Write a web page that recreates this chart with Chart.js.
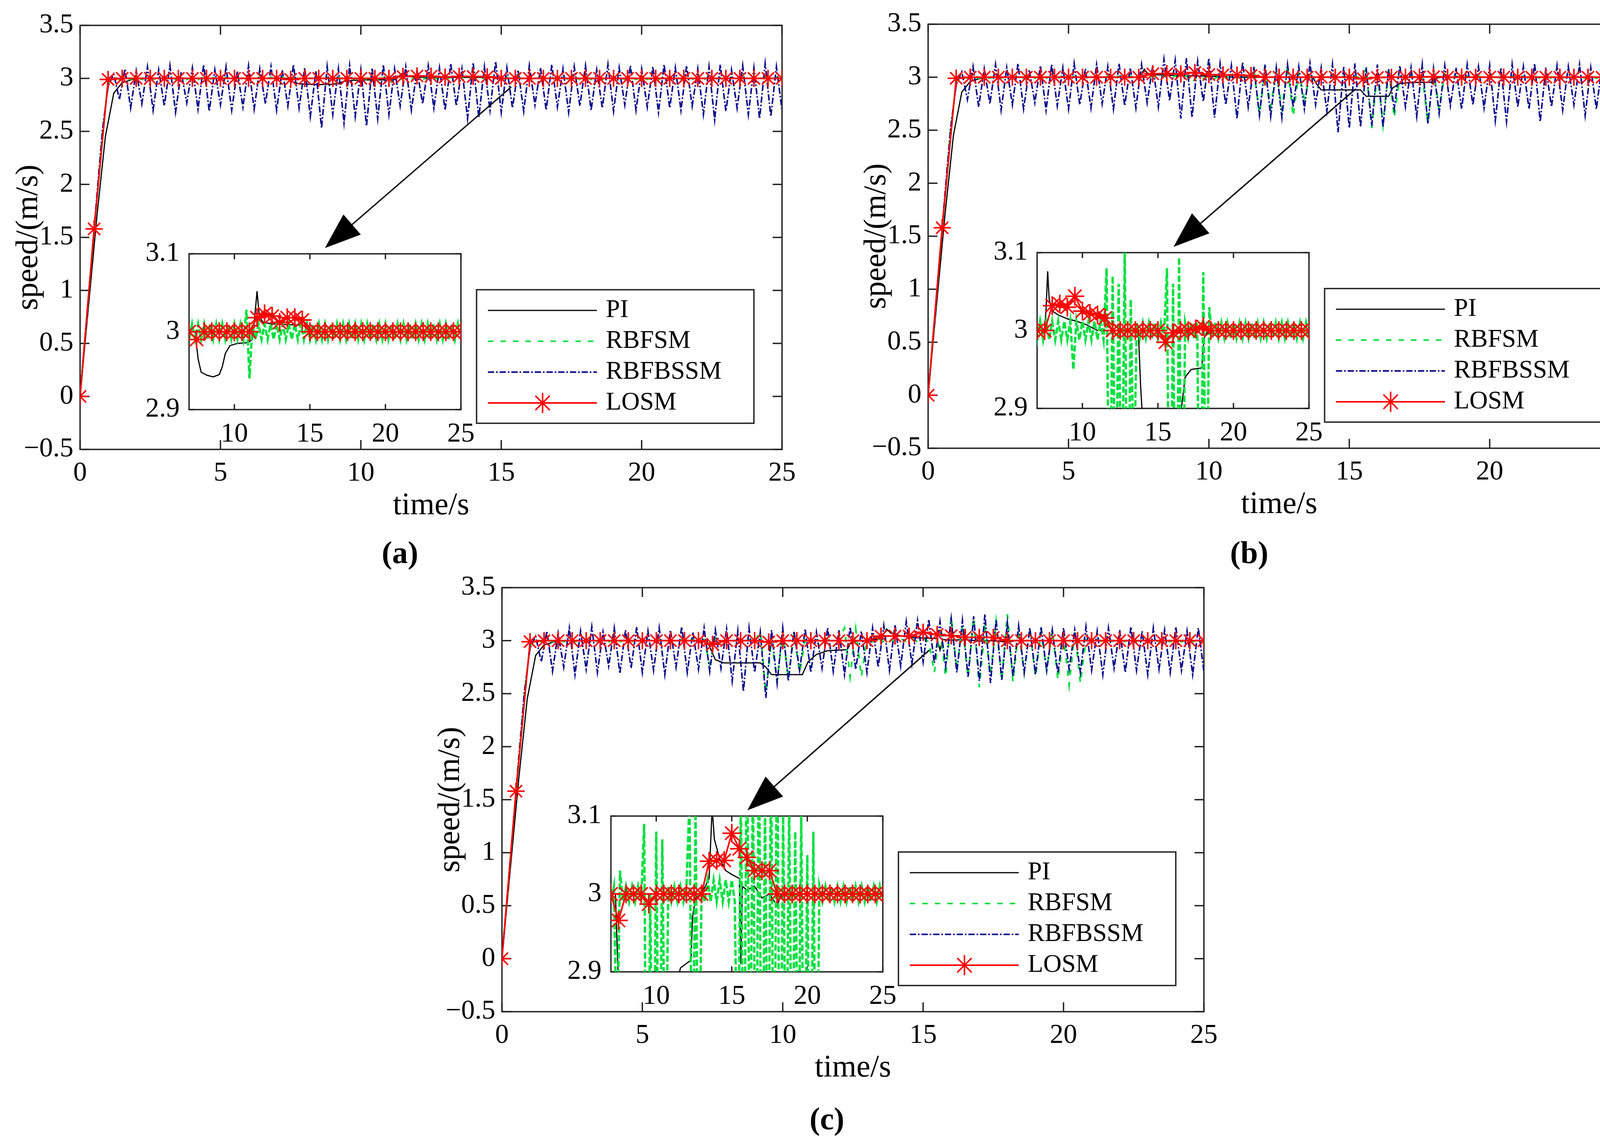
<!DOCTYPE html>
<html>
<head>
<meta charset="utf-8">
<script src="https://cdn.jsdelivr.net/npm/chart.js@4.4.1/dist/chart.umd.min.js"></script>
<style>
  body { margin: 0; width: 4227px; height: 2935px; background: #fff; position: relative; overflow: hidden; }
  canvas { position: absolute; }
  .tag { position: absolute; font: bold 80px "Liberation Serif", serif; line-height: 1; transform: translate(-50%, -50%); color: #000; }
</style>
</head>
<body>
<div class="tag" style="left:1024px;top:1415px">(a)</div>
<div class="tag" style="left:3198px;top:1415px">(b)</div>
<div class="tag" style="left:2117px;top:2865px">(c)</div>
<script>
// sampling of the simulation traces
const sampleStep = 0.2;   // RBFSM / RBFBSSM samples, seconds
const markerStep = 0.5;   // LOSM samples, seconds

const seriesNames = ['PI', 'RBFSM', 'RBFBSSM', 'LOSM'];
const xTicksMain = [0, 5, 10, 15, 20, 25];
const yTicksMain = [-0.5, 0, 0.5, 1, 1.5, 2, 2.5, 3, 3.5];
const xTicksInset = [10, 15, 20, 25];
const yTicksInset = [2.9, 3, 3.1];

// ---------- (a) ----------
const piTimeA = [0, 0.3, 0.6, 0.9, 1.2, 1.5, 2.0, 7.4, 7.6, 7.8, 8.2, 8.6, 9.0, 9.2, 9.4, 9.7, 10.2, 10.9,
  11.2, 11.4, 11.5, 11.65, 11.9, 12.5, 14.8, 15.2, 25];
const piSpeedA = [0, 0.85, 1.7, 2.45, 2.86, 2.96, 3.0, 3.0, 2.965, 2.948, 2.944, 2.942, 2.945, 2.955, 2.972, 2.982, 2.985, 2.986,
  2.99, 3.03, 3.052, 3.02, 3.012, 3.01, 3.008, 3.0, 3.0];
const rbfsmA = [
  0, 0.62, 1.25, 1.88, 2.5, 2.95, 3.01, 2.99, 3.01, 2.99,
  3.01, 2.99, 3.01, 2.99, 3.01, 2.99, 3.01, 2.99, 3.01, 2.99,
  3.01, 2.99, 3.01, 2.99, 3.01, 2.99, 3.01, 2.99, 3.01, 2.99,
  3.01, 2.99, 3.01, 2.99, 3.01, 2.99, 3.01, 2.99, 3.01, 2.99,
  3.01, 2.99, 3.01, 2.99, 3.01, 2.99, 3.01, 2.99, 3.01, 2.99,
  3.01, 2.99, 3.01, 2.99, 3.028, 2.94, 3.01, 2.99, 3.01, 2.99,
  3.01, 2.99, 3.01, 2.99, 3.01, 2.99, 3.01, 2.99, 3.01, 2.99,
  3.01, 2.99, 3.01, 2.99, 3.01, 2.99, 3.01, 2.99, 3.01, 2.99,
  3.01, 2.99, 3.01, 2.99, 3.01, 2.99, 3.01, 2.99, 3.01, 2.99,
  3.01, 2.99, 3.01, 2.99, 3.01, 2.99, 3.01, 2.99, 3.01, 2.99,
  3.01, 2.99, 3.01, 2.99, 3.01, 2.99, 3.01, 2.99, 3.01, 2.99,
  3.01, 2.99, 3.01, 2.99, 3.01, 2.99, 3.01, 2.99, 3.01, 2.99,
  3.01, 2.99, 3.01, 2.99, 3.01, 2.99];
const rbfbssmA = [
  0, 0.63, 1.26, 1.9, 2.52, 2.93,
  3.04, 2.80, 3.09, 2.72, 3.07, 2.76, 3.11, 2.70, 3.08, 2.74,
  3.12, 2.68, 3.06, 2.77, 3.10, 2.71, 3.13, 2.69, 3.08, 2.75,
  3.11, 2.70, 3.07, 2.73, 3.12, 2.71, 3.09, 2.76, 3.11, 2.70,
  3.08, 2.74, 3.13, 2.72, 3.10, 2.64, 3.07, 2.53, 3.11, 2.66,
  3.09, 2.58, 3.12, 2.64, 3.08, 2.55, 3.10, 2.62, 3.13, 2.66,
  3.09, 2.74, 3.11, 2.70, 3.08, 2.76, 3.12, 2.72, 3.10, 2.70,
  3.14, 2.74, 3.09, 2.62, 3.15, 2.63, 3.11, 2.70, 3.16, 2.68,
  3.10, 2.72, 3.08, 2.69, 3.12, 2.75, 3.10, 2.70, 3.13, 2.73,
  3.09, 2.68, 3.11, 2.74, 3.12, 2.70, 3.08, 2.72, 3.13, 2.69,
  3.10, 2.75, 3.12, 2.70, 3.09, 2.73, 3.11, 2.68, 3.13, 2.72,
  3.10, 2.70, 3.12, 2.74, 3.09, 2.66, 3.11, 2.61, 3.13, 2.69,
  3.08, 2.72, 3.12, 2.66, 3.10, 2.62, 3.14, 2.64, 3.11, 2.70];
const losmA = [
  0, 1.58, 2.99, 3, 3, 3, 3, 3, 3, 3,
  3, 3, 3, 3, 3, 2.99, 3, 3, 3, 3,
  3, 3, 3, 3.018, 3.023, 3.02, 3.012, 3.018, 3.018, 3.015,
  3, 3, 3, 3, 3, 3, 3, 3, 3, 3,
  3, 3, 3, 3, 3, 3, 3, 3, 3, 3,
  3];

// ---------- (b) ----------
const piTimeB = [0, 0.3, 0.6, 0.9, 1.2, 1.5, 2.0, 7.5, 7.6, 7.7, 7.8, 8.0, 8.4, 9.0, 9.6, 10.2, 11.0,
  13.7, 13.85, 14.0, 15.4, 15.6, 16.4, 16.55, 16.8, 17.2, 17.9, 18.05, 18.3, 25];
const piSpeedB = [0, 0.85, 1.7, 2.45, 2.86, 2.96, 3.0, 3.0, 3.03, 3.076, 3.04, 3.025, 3.02, 3.015, 3.012, 3.008, 3.0,
  3.0, 2.93, 2.88, 2.88, 2.82, 2.82, 2.9, 2.94, 2.95, 2.952, 2.99, 3.0, 3.0];
const rbfsmB = [
  0, 0.62, 1.25, 1.88, 2.5, 2.95, 3.01, 2.99, 3.01, 2.99,
  3.01, 2.99, 3.01, 2.99, 3.01, 2.99, 3.01, 2.99, 3.01, 2.99,
  3.01, 2.99, 3.01, 2.99, 3.01, 2.99, 3.01, 2.99, 3.01, 2.99,
  3.01, 2.99, 3.01, 2.99, 3.01, 2.988, 3.012, 2.988, 3.012, 2.988,
  3.012, 2.988, 3.012, 2.988, 3.012, 2.988, 3.012, 2.95, 3.012, 2.988,
  3.012, 2.988, 3.012, 2.988, 3.012, 2.988, 3.012, 2.988, 3.08, 2.65,
  3.07, 2.72, 3.06, 2.70, 3.11, 2.63, 3.04, 2.80, 3.01, 2.99,
  3.01, 2.99, 3.01, 2.99, 3.01, 2.99, 3.01, 2.99, 3.08, 2.52,
  3.06, 2.55, 3.094, 2.62, 3.01, 2.99, 3.01, 2.99, 3.01, 2.57,
  3.075, 2.70, 3.03, 2.99, 3.01, 2.99, 3.01, 2.99, 3.01, 2.99,
  3.01, 2.99, 3.01, 2.99, 3.01, 2.99, 3.01, 2.99, 3.01, 2.99,
  3.01, 2.99, 3.01, 2.99, 3.01, 2.99, 3.01, 2.99, 3.01, 2.99,
  3.01, 2.99, 3.01, 2.99, 3.01, 2.99];
const rbfbssmB = [
  0, 0.63, 1.26, 1.9, 2.52, 2.93,
  3.05, 2.79, 3.10, 2.72, 3.08, 2.75, 3.12, 2.69, 3.09, 2.74,
  3.13, 2.70, 3.07, 2.76, 3.11, 2.69, 3.12, 2.73, 3.09, 2.70,
  3.13, 2.74, 3.08, 2.71, 3.12, 2.75, 3.10, 2.70, 3.13, 2.73,
  3.09, 2.71, 3.12, 2.76, 3.11, 2.72, 3.17, 2.78, 3.16, 2.61,
  3.18, 2.62, 3.15, 2.77, 3.18, 2.62, 3.13, 2.74, 3.11, 2.61,
  3.14, 2.72, 3.10, 2.64, 3.12, 2.63, 3.09, 2.62, 3.12, 2.72,
  3.10, 2.70, 3.13, 2.74, 3.09, 2.68, 3.12, 2.48, 3.10, 2.52,
  3.13, 2.53, 3.09, 2.54, 3.12, 2.53, 3.08, 2.70, 3.11, 2.72,
  3.09, 2.63, 3.12, 2.56, 3.08, 2.66, 3.11, 2.73, 3.09, 2.70,
  3.12, 2.74, 3.10, 2.71, 3.11, 2.59, 3.09, 2.58, 3.12, 2.72,
  3.10, 2.70, 3.13, 2.58, 3.09, 2.72, 3.11, 2.69, 3.10, 2.74,
  3.12, 2.64, 3.09, 2.70, 3.11, 2.68, 3.13, 2.72, 3.10, 2.69];
const losmB = [
  0, 1.58, 2.99, 3, 3, 3, 3, 3, 3, 3,
  3, 3, 3, 3, 3, 3, 3.032, 3.034, 3.03, 3.044,
  3.025, 3.022, 3.02, 3.016, 3, 3, 3, 3, 3, 3,
  3, 2.985, 2.997, 3, 3, 3.002, 3.005, 3, 3, 3,
  3, 3, 3, 3, 3, 3, 3, 3, 3, 3,
  3];

// ---------- (c) ----------
const piTimeC = [0, 0.3, 0.6, 0.9, 1.2, 1.5, 2.0, 7.3, 7.6, 7.9, 9.2, 9.4, 9.6, 10.7, 10.9, 11.2, 11.6,
  12.3, 12.4, 12.6, 13.0, 13.5, 13.7, 13.85, 14.2, 14.6, 15.0,
  15.5, 15.6, 15.7, 16.0, 16.5, 17.0, 17.5, 18.0, 18.3, 25];
const piSpeedC = [0, 0.85, 1.7, 2.45, 2.86, 2.96, 3.0, 3.0, 2.82, 2.79, 2.79, 2.75, 2.68, 2.68, 2.80, 2.87, 2.905,
  2.915, 2.97, 2.995, 3.0, 3.02, 3.11, 3.07, 3.045, 3.03, 3.025,
  3.02, 2.91, 3.01, 3.005, 3.01, 2.995, 3.0, 2.985, 3.0, 3.0];
const rbfsmC = [
  0, 0.62, 1.25, 1.88, 2.5, 2.95, 3.01, 2.99, 3.01, 2.99,
  3.01, 2.99, 3.01, 2.99, 3.01, 2.99, 3.01, 2.99, 3.01, 2.99,
  3.01, 2.99, 3.01, 2.99, 3.01, 2.99, 3.01, 2.99, 3.01, 2.99,
  3.01, 2.99, 3.01, 2.99, 3.01, 2.99, 3.01, 2.78, 3.03, 2.99,
  3.01, 2.99, 3.01, 2.99, 3.01, 2.99, 3.09, 2.51, 3.0, 2.62,
  3.08, 2.64, 3.07, 2.70, 3.01, 2.99, 3.01, 2.99, 3.01, 2.99,
  3.01, 3.12, 2.66, 3.11, 2.66, 3.01, 2.99, 3.018, 2.99, 3.018,
  2.99, 3.018, 2.99, 3.018, 2.99, 3.018, 2.99, 2.70, 3.13, 2.66,
  3.23, 2.72, 3.15, 2.65, 3.22, 2.56, 3.12, 2.68, 3.18, 2.63,
  3.25, 2.61, 3.10, 2.70, 3.12, 2.66, 3.08, 2.72, 3.10, 2.63,
  3.05, 2.58, 3.08, 2.60, 3.01, 2.99, 3.01, 2.99, 3.01, 2.99,
  3.01, 2.99, 3.01, 2.99, 3.01, 2.99, 3.01, 2.99, 3.01, 2.99,
  3.01, 2.99, 3.01, 2.99, 3.01, 2.99];
const rbfbssmC = [
  0, 0.63, 1.26, 1.9, 2.52, 2.93,
  3.04, 2.80, 3.09, 2.71, 3.07, 2.75, 3.12, 2.68, 3.09, 2.73,
  3.13, 2.70, 3.08, 2.76, 3.12, 2.69, 3.10, 2.74, 3.13, 2.70,
  3.09, 2.72, 3.12, 2.68, 3.10, 2.75, 3.13, 2.70, 3.08, 2.73,
  3.12, 2.71, 3.10, 2.74, 3.11, 2.62, 3.09, 2.52, 3.12, 2.70,
  3.08, 2.46, 3.10, 2.60, 3.12, 2.62, 3.09, 2.72, 3.11, 2.70,
  3.08, 2.74, 3.12, 2.71, 3.10, 2.68, 3.13, 2.73, 3.09, 2.70,
  3.12, 2.75, 3.14, 2.72, 3.15, 2.76, 3.18, 2.78, 3.19, 2.80,
  3.20, 2.79, 3.18, 2.76, 3.21, 2.70, 3.19, 2.66, 3.23, 2.62,
  3.25, 2.60, 3.20, 2.63, 3.17, 2.66, 3.14, 2.70, 3.12, 2.68,
  3.13, 2.72, 3.10, 2.69, 3.12, 2.73, 3.10, 2.70, 3.13, 2.72,
  3.09, 2.68, 3.12, 2.74, 3.10, 2.70, 3.13, 2.72, 3.09, 2.68,
  3.12, 2.73, 3.10, 2.70, 3.13, 2.72, 3.09, 2.68, 3.12, 2.71];
const losmC = [
  0, 1.58, 2.99, 3, 3, 3, 3, 3, 3, 3,
  3, 3, 3, 3, 3, 2.966, 3, 3, 3, 2.987,
  3, 3, 3, 3, 3, 3, 3, 3.042, 3.043, 3.043,
  3.078, 3.058, 3.047, 3.03, 3.03, 3.03, 3, 3, 3, 3,
  3, 3, 3, 3, 3, 3, 3, 3, 3, 3,
  3];

// ---------- layout ----------
const MAIN_W = 1797, MAIN_H = 1086;
const INSET_DX = 279, INSET_DY = 569, INSET_W = 696, INSET_H = 415;
const LEG_DX = 1015, LEG_DY = 677, LEG_W = 710, LEG_H = 342;

const panels = [
  { left: 205, top: 65, pi: [piTimeA, piSpeedA], rbfsm: rbfsmA, rbfbssm: rbfbssmA, losm: losmA,
    arrow: [[15.36, 2.92], [8.72, 1.40]] },
  { left: 2376, top: 62, pi: [piTimeB, piSpeedB], rbfsm: rbfsmB, rbfbssm: rbfbssmB, losm: losmB,
    arrow: [[15.23, 2.89], [8.74, 1.40]] },
  { left: 1285, top: 1505, pi: [piTimeC, piSpeedC], rbfsm: rbfsmC, rbfbssm: rbfbssmC, losm: losmC,
    arrow: [[15.22, 2.91], [8.74, 1.40]] }
];

const RED = '#ff0000', GREEN = '#00e040', BLUE = '#0a0a8c', BLACK = '#000000', FRAME = '#222222';

Chart.defaults.font.family = '"Liberation Serif", "Times New Roman", serif';
Chart.defaults.color = '#000';

const onGrid = (vals, step) => vals.map((v, i) => ({ x: Math.round(i * step * 1000) / 1000, y: v }));
const paired = (ts, vs) => ts.map((t, i) => ({ x: t, y: vs[i] }));
const fmt = v => v < 0 ? '\u2212' + (-v) : String(v);

// box + inward ticks on all four sides, white plot background
const framePlugin = {
  id: 'frame',
  beforeDatasetsDraw(chart, args, o) {
    const { ctx, chartArea: a, scales: { x, y } } = chart;
    ctx.save();
    ctx.fillStyle = '#fff';
    ctx.fillRect(a.left, a.top, a.width, a.height);
    ctx.strokeStyle = FRAME;
    ctx.lineWidth = o.width;
    ctx.beginPath();
    x.ticks.forEach(t => {
      const px = x.getPixelForValue(t.value);
      ctx.moveTo(px, a.bottom); ctx.lineTo(px, a.bottom - o.tick);
      ctx.moveTo(px, a.top); ctx.lineTo(px, a.top + o.tick);
    });
    y.ticks.forEach(t => {
      const py = y.getPixelForValue(t.value);
      ctx.moveTo(a.left, py); ctx.lineTo(a.left + o.tick, py);
      ctx.moveTo(a.right, py); ctx.lineTo(a.right - o.tick, py);
    });
    ctx.stroke();
    ctx.strokeRect(a.left, a.top, a.width, a.height);
    ctx.restore();
  }
};

const legendPlugin = {
  id: 'boxLegend',
  afterDatasetsDraw(chart) {
    const { ctx, chartArea: a } = chart;
    const bx = a.left + LEG_DX, by = a.top + LEG_DY;
    ctx.save();
    ctx.fillStyle = '#fff';
    ctx.fillRect(bx, by, LEG_W, LEG_H);
    ctx.strokeStyle = FRAME;
    ctx.lineWidth = 3.5;
    ctx.strokeRect(bx, by, LEG_W, LEG_H);
    chart.data.datasets.forEach((ds, i) => {
      const ly = by + 53 + i * 79;
      ctx.strokeStyle = ds.borderColor;
      ctx.lineWidth = Math.min(ds.borderWidth, 4);
      ctx.setLineDash(ds.borderDash || []);
      ctx.beginPath();
      ctx.moveTo(bx + 29, ly); ctx.lineTo(bx + 308, ly);
      ctx.stroke();
      ctx.setLineDash([]);
      if (ds.pointStyle === 'star') {
        Chart.helpers.drawPoint(ctx, { pointStyle: 'star', radius: 26, borderWidth: 3.5, rotation: 0 }, bx + 169, ly);
      }
      ctx.fillStyle = '#000';
      ctx.font = '65px "Liberation Serif", serif';
      ctx.textBaseline = 'middle';
      ctx.fillText(ds.label, bx + 331, ly);
    });
    ctx.restore();
  }
};

const arrowPlugin = {
  id: 'zoomArrow',
  afterDatasetsDraw(chart, args, o) {
    const { ctx, scales: { x, y } } = chart;
    const x0 = x.getPixelForValue(o.from[0]), y0 = y.getPixelForValue(o.from[1]);
    const x1 = x.getPixelForValue(o.to[0]), y1 = y.getPixelForValue(o.to[1]);
    const ang = Math.atan2(y1 - y0, x1 - x0);
    const len = 92, hw = 34;
    const bx = x1 - len * Math.cos(ang), by = y1 - len * Math.sin(ang);
    ctx.save();
    ctx.strokeStyle = '#000';
    ctx.fillStyle = '#000';
    ctx.lineWidth = 3.5;
    ctx.beginPath(); ctx.moveTo(x0, y0); ctx.lineTo(bx, by); ctx.stroke();
    ctx.beginPath();
    ctx.moveTo(x1, y1);
    ctx.lineTo(bx + hw * Math.sin(ang), by - hw * Math.cos(ang));
    ctx.lineTo(bx - hw * Math.sin(ang), by + hw * Math.cos(ang));
    ctx.closePath();
    ctx.fill();
    ctx.restore();
  }
};

function axis(min, max, ticks, pad, extra) {
  return Object.assign({
    type: 'linear', min: min, max: max,
    afterBuildTicks: s => { s.ticks = ticks.map(v => ({ value: v })); },
    grid: { display: false, drawTicks: false },
    border: { display: false },
    ticks: { padding: pad, font: { size: 70 }, color: '#000', autoSkip: false, maxRotation: 0, callback: fmt }
  }, extra);
}

function makeCanvas(left, top, w, h) {
  const cv = document.createElement('canvas');
  cv.width = w; cv.height = h;
  cv.style.left = left + 'px';
  cv.style.top = top + 'px';
  document.body.appendChild(cv);
  return cv;
}

function mainChart(p) {
  const padL = 200, padT = 70, padR = 90, padB = 230;
  const cv = makeCanvas(p.left - padL, p.top - padT, MAIN_W + padL + padR, MAIN_H + padT + padB);
  new Chart(cv, {
    type: 'line',
    data: {
      datasets: [
        { label: seriesNames[0], data: paired(p.pi[0], p.pi[1]), borderColor: BLACK, borderWidth: 3, pointRadius: 0, order: 3 },
        { label: seriesNames[1], data: onGrid(p.rbfsm, sampleStep), borderColor: GREEN, borderWidth: 4.5, borderDash: [14, 18], pointRadius: 0, order: 2 },
        { label: seriesNames[2], data: onGrid(p.rbfbssm, sampleStep), borderColor: BLUE, borderWidth: 4, borderDash: [16, 5, 4, 5], pointRadius: 0, order: 1 },
        { label: seriesNames[3], data: onGrid(p.losm, markerStep), borderColor: RED, borderWidth: 4, pointStyle: 'star',
          pointRadius: 22, pointBorderWidth: 4, pointBorderColor: RED, pointBackgroundColor: RED, order: 0 }
      ]
    },
    options: {
      responsive: false, animation: false, devicePixelRatio: 1, events: [],
      layout: { padding: { left: 0, top: padT, right: padR, bottom: 0 } },
      plugins: {
        legend: { display: false }, tooltip: { enabled: false },
        frame: { tick: 24, width: 3.5 },
        zoomArrow: { from: p.arrow[0], to: p.arrow[1] }
      },
      scales: {
        x: axis(0, 25, xTicksMain, 20, {
          afterFit: s => { s.height = padB; },
          title: { display: true, text: 'time/s', font: { size: 80 }, color: '#000', padding: { top: 0, bottom: 37 } }
        }),
        y: axis(-0.5, 3.5, yTicksMain, 17, {
          afterFit: s => { s.width = padL; },
          title: { display: true, text: 'speed/(m/s)', font: { size: 80 }, color: '#000', padding: { top: 21, bottom: 0 } }
        })
      }
    },
    plugins: [framePlugin, legendPlugin, arrowPlugin]
  });
}

function insetChart(p) {
  const padL = 150, padT = 50, padR = 60, padB = 150;
  const il = p.left + INSET_DX, it = p.top + INSET_DY;
  const cv = makeCanvas(il - padL, it - padT, INSET_W + padL + padR, INSET_H + padT + padB);
  new Chart(cv, {
    type: 'line',
    data: {
      datasets: [
        { label: seriesNames[0], data: paired(p.pi[0], p.pi[1]), borderColor: BLACK, borderWidth: 3, pointRadius: 0, order: 2 },
        { label: seriesNames[1], data: onGrid(p.rbfsm, sampleStep), borderColor: GREEN, borderWidth: 6, borderDash: [16, 6], pointRadius: 0, order: 1 },
        { label: seriesNames[3], data: onGrid(p.losm, markerStep), borderColor: RED, borderWidth: 4, pointStyle: 'star',
          pointRadius: 24, pointBorderWidth: 4, pointBorderColor: RED, pointBackgroundColor: RED, order: 0 }
      ]
    },
    options: {
      responsive: false, animation: false, devicePixelRatio: 1, events: [],
      layout: { padding: { left: 0, top: padT, right: padR, bottom: 0 } },
      plugins: { legend: { display: false }, tooltip: { enabled: false }, frame: { tick: 14, width: 3.5 } },
      scales: {
        x: axis(7, 25, xTicksInset, 22, { afterFit: s => { s.height = padB; } }),
        y: axis(2.9, 3.1, yTicksInset, 24, { afterFit: s => { s.width = padL; } })
      }
    },
    plugins: [framePlugin]
  });
}

panels.forEach(p => { mainChart(p); insetChart(p); });
</script>
</body>
</html>
